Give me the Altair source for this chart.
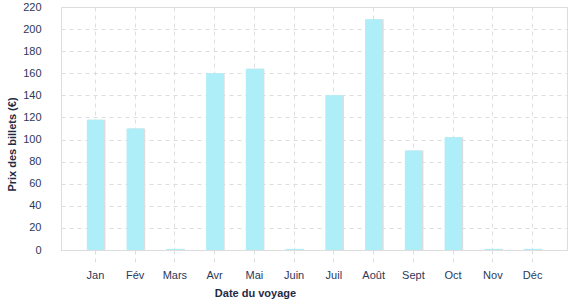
import altair as alt
import pandas as pd

months = ["Jan", "Fév", "Mars", "Avr", "Mai", "Juin", "Juil", "Août", "Sept", "Oct", "Nov", "Déc"]
prices = [118, 110, 1, 160, 164, 1, 140, 209, 90, 102, 1, 1]
y_ticks = [0, 20, 40, 60, 80, 100, 120, 140, 160, 180, 200, 220]

df = pd.DataFrame({"mois": months, "prix": prices})

FONT = "Liberation Sans"

x_enc = alt.X(
    "mois:N",
    sort=months,
    scale=alt.Scale(paddingInner=0.57, paddingOuter=0.65),
    axis=alt.Axis(
        title="Date du voyage",
        labelAngle=0,
        labelFont=FONT,
        labelFontSize=11,
        labelColor="#2c3858",
        labelPadding=4,
        domain=False,
        ticks=True,
        tickSize=15,
        tickColor="#dddddd",
        tickDash=[4, 4],
        grid=True,
        gridColor="#dddddd",
        gridDash=[4, 4],
        titleFont=FONT,
        titleFontSize=11,
        titleFontWeight="bold",
        titleColor="#1f2a44",
        titleX=194,
        titleY=43,
        titleAlign="center",
        titleBaseline="middle",
    ),
)
y_enc = alt.Y(
    "prix:Q",
    scale=alt.Scale(domain=[0, 220], nice=False),
    axis=alt.Axis(
        title="Prix des billets (€)",
        values=y_ticks,
        labelFont=FONT,
        labelFontSize=11,
        labelColor="#2c3858",
        labelPadding=20,
        domain=False,
        ticks=False,
        grid=True,
        gridColor="#dddddd",
        gridDash=[4, 4],
        titleFont=FONT,
        titleFontSize=11,
        titleFontWeight="bold",
        titleColor="#1f2a44",
        titleAngle=-90,
        titleX=-49,
        titleY=137,
        titleAlign="center",
        titleBaseline="middle",
    ),
)

shadow = alt.Chart(df).mark_bar(color="#dcdcdc", xOffset=1.5).encode(x=x_enc, y=y_enc)
bars = alt.Chart(df).mark_bar(color="#aeeef8").encode(x=x_enc, y=y_enc)

chart = (
    alt.layer(shadow, bars)
    .properties(
        width=506,
        height=243,
        autosize=alt.AutoSizeParams(type="none"),
        padding={"left": 61, "top": 7, "right": 10, "bottom": 50},
    )
    .configure_view(stroke=None)
    .configure(background="white")
)

chart.save("out.html", embed_options={"renderer": "svg", "actions": False})
